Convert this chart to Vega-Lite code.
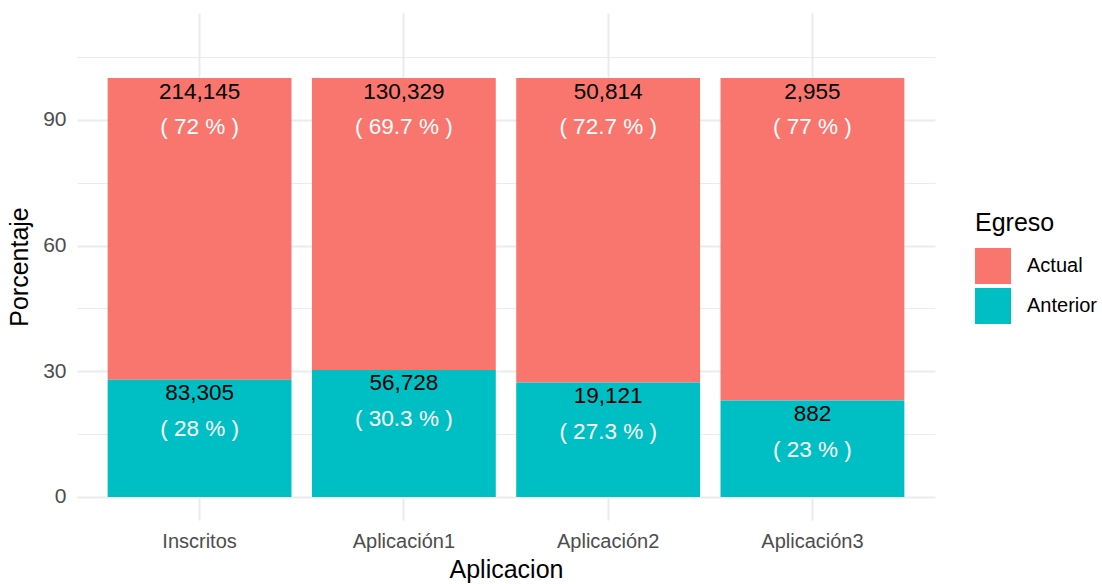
{
  "$schema": "https://vega.github.io/schema/vega-lite/v6.json",
  "autosize": {"type": "none"},
  "width": 858,
  "height": 507,
  "padding": {"left": 77, "top": 13, "right": 167, "bottom": 64},
  "background": "white",
  "config": {
    "font": "Liberation Sans",
    "view": {"stroke": null},
    "axis": {"domain": false, "ticks": false, "gridColor": "#EBEBEB", "labelColor": "#4D4D4D", "titleColor": "black", "titleFontWeight": "normal"}
  },
  "data": {
    "values": [
      {"Aplicacion": "Inscritos", "Egreso": "Actual", "n": 214145, "pct": 72, "lab": "( 72 % )"},
      {"Aplicacion": "Inscritos", "Egreso": "Anterior", "n": 83305, "pct": 28, "lab": "( 28 % )"},
      {"Aplicacion": "Aplicación1", "Egreso": "Actual", "n": 130329, "pct": 69.7, "lab": "( 69.7 % )"},
      {"Aplicacion": "Aplicación1", "Egreso": "Anterior", "n": 56728, "pct": 30.3, "lab": "( 30.3 % )"},
      {"Aplicacion": "Aplicación2", "Egreso": "Actual", "n": 50814, "pct": 72.7, "lab": "( 72.7 % )"},
      {"Aplicacion": "Aplicación2", "Egreso": "Anterior", "n": 19121, "pct": 27.3, "lab": "( 27.3 % )"},
      {"Aplicacion": "Aplicación3", "Egreso": "Actual", "n": 2955, "pct": 77, "lab": "( 77 % )"},
      {"Aplicacion": "Aplicación3", "Egreso": "Anterior", "n": 882, "pct": 23, "lab": "( 23 % )"}
    ]
  },
  "encoding": {
    "x": {
      "field": "Aplicacion", "type": "nominal",
      "sort": ["Inscritos", "Aplicación1", "Aplicación2", "Aplicación3"],
      "scale": {"paddingInner": 0.1, "paddingOuter": 0.15},
      "axis": {"title": "Aplicacion", "labelAngle": 0, "labelFontSize": 20, "titleFontSize": 25, "labelPadding": 11, "titlePadding": 6, "grid": true, "gridWidth": 2, "bandPosition": 0.5}
    }
  },
  "layer": [
    {
      "mark": {"type": "bar"},
      "encoding": {
        "y": {
          "field": "pct", "type": "quantitative", "stack": "zero",
          "scale": {"domain": [-5.5, 115.5], "nice": false, "zero": false},
          "axis": {
            "title": "Porcentaje",
            "values": [0, 15, 30, 45, 60, 75, 90, 105],
            "labelExpr": "datum.value % 30 === 0 ? datum.label : ''",
            "gridWidth": {"condition": {"test": "datum.value % 30 === 0", "value": 2}, "value": 1},
            "labelFontSize": 21, "titleFontSize": 25, "labelPadding": 11, "titlePadding": 10
          }
        },
        "color": {
          "field": "Egreso", "type": "nominal",
          "scale": {"domain": ["Actual", "Anterior"], "range": ["#F8766D", "#00BFC4"]},
          "legend": {
            "orient": "none", "legendX": 898, "legendY": 198,
            "title": "Egreso", "titleFontSize": 25, "titleFontWeight": "normal", "titleColor": "black",
            "labelFontSize": 20, "labelColor": "black", "labelOffset": 16,
            "symbolType": "square", "symbolSize": 1296, "symbolStrokeWidth": 0, "symbolOpacity": 1,
            "rowPadding": 4, "titlePadding": 12, "padding": 0
          }
        },
        "order": {"field": "Egreso", "sort": "descending"}
      }
    },
    {
      "transform": [{"filter": "datum.Egreso === 'Actual'"}],
      "mark": {"type": "text", "fontSize": 22.5, "color": "black", "dy": 14, "baseline": "middle"},
      "encoding": {"y": {"datum": 100, "type": "quantitative"}, "text": {"field": "n", "type": "quantitative", "format": ","}}
    },
    {
      "transform": [{"filter": "datum.Egreso === 'Actual'"}],
      "mark": {"type": "text", "fontSize": 22.5, "color": "white", "dy": 49, "baseline": "middle"},
      "encoding": {"y": {"datum": 100, "type": "quantitative"}, "text": {"field": "lab", "type": "nominal"}}
    },
    {
      "transform": [{"filter": "datum.Egreso === 'Anterior'"}],
      "mark": {"type": "text", "fontSize": 22.5, "color": "black", "dy": 13, "baseline": "middle"},
      "encoding": {"y": {"field": "pct", "type": "quantitative"}, "text": {"field": "n", "type": "quantitative", "format": ","}}
    },
    {
      "transform": [{"filter": "datum.Egreso === 'Anterior'"}],
      "mark": {"type": "text", "fontSize": 22.5, "color": "white", "dy": 49, "baseline": "middle"},
      "encoding": {"y": {"field": "pct", "type": "quantitative"}, "text": {"field": "lab", "type": "nominal"}}
    }
  ]
}
